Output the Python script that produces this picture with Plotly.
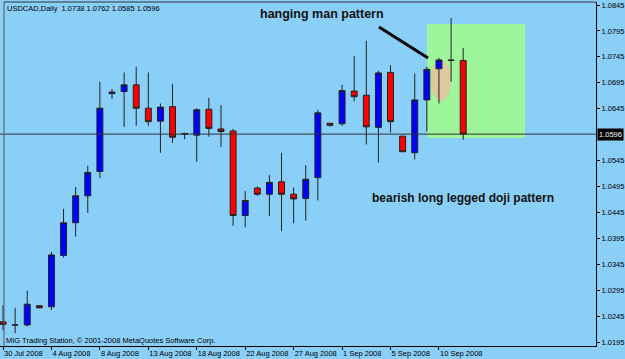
import plotly.graph_objects as go

# ---- data (USDCAD daily, MT4 style with Sunday bars) ----
bar_index = list(range(39))
open_ = [1.0234, 1.0228, 1.0228, 1.0265, 1.0263, 1.0362, 1.0425, 1.0477, 1.0524, 1.0674,
         1.0678, 1.0691, 1.0646, 1.0621, 1.0649, 1.0597, 1.0594, 1.0644, 1.0606, 1.0602,
         1.0439, 1.0492, 1.0480, 1.0504, 1.0480, 1.0472, 1.0512, 1.0617, 1.0616, 1.0679,
         1.0671, 1.0609, 1.0715, 1.0592, 1.0560, 1.0662, 1.0722, 1.0739, 1.0738]
high = [1.0266, 1.0261, 1.0294, 1.0266, 1.0369, 1.0452, 1.0494, 1.0535, 1.0697, 1.0683,
        1.0715, 1.0726, 1.0715, 1.0655, 1.0693, 1.0599, 1.0646, 1.0666, 1.0652, 1.0606,
        1.0486, 1.0495, 1.0517, 1.0560, 1.0493, 1.0536, 1.0643, 1.0617, 1.0691, 1.0747,
        1.0776, 1.0718, 1.0729, 1.0592, 1.0713, 1.0726, 1.0743, 1.0820, 1.0762]
low = [1.0218, 1.0212, 1.0225, 1.0260, 1.0257, 1.0358, 1.0398, 1.0444, 1.0511, 1.0664,
       1.0610, 1.0612, 1.0612, 1.0560, 1.0579, 1.0586, 1.0543, 1.0591, 1.0571, 1.0419,
       1.0416, 1.0477, 1.0438, 1.0409, 1.0424, 1.0429, 1.0468, 1.0610, 1.0612, 1.0659,
       1.0576, 1.0541, 1.0599, 1.0562, 1.0547, 1.0601, 1.0655, 1.0697, 1.0585]
close = [1.0229, 1.0228, 1.0268, 1.0261, 1.0363, 1.0425, 1.0477, 1.0522, 1.0646, 1.0677,
         1.0691, 1.0646, 1.0620, 1.0648, 1.0590, 1.0596, 1.0643, 1.0607, 1.0601, 1.0439,
         1.0468, 1.0480, 1.0503, 1.0480, 1.0471, 1.0509, 1.0637, 1.0613, 1.0680, 1.0668,
         1.0610, 1.0714, 1.0620, 1.0562, 1.0662, 1.0721, 1.0739, 1.0738, 1.0596]

tick_positions = [0, 4, 8, 12, 16, 20, 24, 28, 32, 36]
tick_labels = ["30 Jul 2008", "4 Aug 2008", "8 Aug 2008", "13 Aug 2008", "18 Aug 2008",
               "22 Aug 2008", "27 Aug 2008", "1 Sep 2008", "5 Sep 2008", "10 Sep 2008"]
price_ticks = [1.0195, 1.0245, 1.0295, 1.0345, 1.0395, 1.0445, 1.0495, 1.0545,
               1.0645, 1.0695, 1.0745, 1.0795, 1.0845]
last_price = 1.0596
title_text = "USDCAD,Daily  1.0738 1.0762 1.0585 1.0596"

# ---- layout geometry ----
W, H = 625, 359
ML, MR, MT, MB = 0, 29, 2, 13
PW, PH = W - ML - MR, H - MT - MB
X0, X1 = -0.248, -0.248 + PW / 12.11
Y_TOP, Y_BOT = 1.085079, 1.018733

def px_x(px):
    return (px - ML) / PW

def px_y(py):
    return (MT + PH - py) / PH

def dx(px):
    return X0 + (px - ML) / PW * (X1 - X0)

def dy(py):
    return Y_TOP - (py - MT) / PH * (Y_TOP - Y_BOT)

BG = "#8ACFF8"
FONT = "Liberation Sans"

fig = go.Figure()
fig.add_trace(go.Candlestick(
    x=bar_index, open=open_, high=high, low=low, close=close,
    increasing=dict(fillcolor="#0000FF", line=dict(color="#222222", width=1)),
    decreasing=dict(fillcolor="#FF0000", line=dict(color="#222222", width=1)),
    whiskerwidth=0, showlegend=False, hoverinfo="skip",
))

shapes = [
    # green highlight
    dict(type="rect", xref="x", yref="y", x0=dx(427), x1=dx(525), y0=dy(138), y1=dy(24),
         fillcolor="#9EF59A", line=dict(width=0), layer="below"),
    # tan ellipse
    dict(type="circle", xref="x", yref="y", x0=dx(431), x1=dx(451), y0=dy(101), y1=dy(60),
         fillcolor="#DFC8A0", line=dict(width=0), layer="below"),
    # last price line
    dict(type="line", xref="paper", yref="y", x0=px_x(0), x1=1, y0=last_price, y1=last_price,
         line=dict(color="#333333", width=1)),
    # arrow line
    dict(type="line", xref="x", yref="y", x0=dx(379), y0=dy(27), x1=dx(428), y1=dy(58),
         line=dict(color="#000000", width=3)),
    # frame left & top
    dict(type="line", xref="paper", yref="paper", x0=px_x(4), x1=px_x(4), y0=0, y1=1,
         line=dict(color="#555555", width=1)),
    dict(type="line", xref="paper", yref="paper", x0=px_x(4), x1=1, y0=1, y1=1,
         line=dict(color="#333333", width=1)),
]

annotations = [
    dict(text=title_text, xref="paper", yref="paper", x=px_x(5), y=px_y(8),
         xanchor="left", yanchor="middle", showarrow=False,
         font=dict(family=FONT, size=7.5, color="#000000")),
    dict(text="MIG Trading Station, © 2001-2008 MetaQuotes Software Corp.", xref="paper",
         yref="paper", x=px_x(4), y=px_y(340), xanchor="left", yanchor="middle",
         showarrow=False, font=dict(family=FONT, size=7.5, color="#000000")),
    dict(text="<b>hanging man pattern</b>", xref="paper", yref="paper",
         x=px_x(321.5), y=px_y(14), xanchor="center", yanchor="middle", showarrow=False,
         font=dict(family=FONT, size=12.5, color="#111111")),
    dict(text="<b>bearish long legged doji pattern</b>", xref="paper", yref="paper",
         x=px_x(463), y=px_y(198), xanchor="center", yanchor="middle", showarrow=False,
         font=dict(family=FONT, size=12, color="#111111")),
    dict(text=f"{last_price:.4f}", xref="paper", yref="y", x=1, y=last_price,
         xanchor="left", yanchor="middle", xshift=1, showarrow=False,
         bgcolor="#000000", borderpad=1,
         font=dict(family=FONT, size=7.5, color="#FFFFFF")),
]

fig.update_layout(
    width=W, height=H,
    margin=dict(l=ML, r=MR, t=MT, b=MB, pad=0),
    paper_bgcolor=BG, plot_bgcolor=BG,
    shapes=shapes, annotations=annotations,
    showlegend=False,
    xaxis=dict(range=[X0, X1], rangeslider=dict(visible=False), showgrid=False,
               zeroline=False, tickmode="array", tickvals=tick_positions,
               ticktext=tick_labels, ticks="outside", ticklen=3, tickcolor="#000000",
               showline=True, linecolor="#000000", linewidth=1, tickangle=0,
               ticklabelposition="outside right", automargin=False,
               tickfont=dict(family=FONT, size=7.5, color="#000000")),
    yaxis=dict(range=[Y_BOT, Y_TOP], side="right", showgrid=False, zeroline=False,
               tickmode="array", tickvals=price_ticks,
               ticktext=[f"{v:.4f}" for v in price_ticks], ticks="outside", ticklen=3,
               tickcolor="#000000", showline=True, linecolor="#000000", linewidth=1,
               automargin=False,
               tickfont=dict(family=FONT, size=7.5, color="#000000")),
)

fig.write_html("out.html")
